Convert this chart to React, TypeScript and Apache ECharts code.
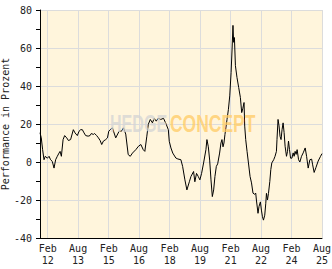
import React, { useEffect, useRef } from "react";
import * as echarts from "echarts";

const dates = [
  "2011-09-16","2011-10-09","2011-11-02","2011-11-27","2011-12-20","2012-01-26","2012-02-26","2012-03-24",
  "2012-04-24","2012-05-25","2012-06-23","2012-07-23","2012-08-23","2012-09-11","2012-10-04","2012-11-04",
  "2012-12-02","2013-01-08","2013-02-08","2013-03-19","2013-05-07","2013-06-07","2013-07-18","2013-08-18",
  "2013-09-16","2013-10-16","2013-11-16","2013-12-15","2014-01-28","2014-03-03","2014-03-26","2014-05-01",
  "2014-05-24","2014-06-30","2014-08-01","2014-09-01","2014-09-29","2014-10-29","2014-12-10","2015-01-10",
  "2015-02-03","2015-02-28","2015-04-09","2015-06-08","2015-08-08","2015-09-19","2015-10-25","2015-12-05",
  "2016-01-18","2016-02-24","2016-04-04","2016-06-03","2016-07-21","2016-09-02","2016-10-14","2016-11-12",
  "2016-12-18","2017-01-13","2017-02-18","2017-03-29","2017-04-29","2017-06-05","2017-07-10","2017-08-26",
  "2017-10-14","2017-12-02","2018-01-08","2018-01-25","2018-02-24","2018-03-29","2018-05-23","2018-06-28",
  "2018-08-22","2018-09-22","2018-11-02","2018-12-08","2019-01-21","2019-02-19","2019-04-07","2019-04-30",
  "2019-05-30","2019-06-30","2019-07-29","2019-08-29","2019-10-04","2019-11-15","2019-12-03","2019-12-28",
  "2020-01-21","2020-02-14","2020-03-09","2020-04-02","2020-04-25","2020-05-20","2020-06-13","2020-07-18",
  "2020-08-11","2020-08-29","2020-09-17","2020-10-04","2020-10-22","2020-11-28","2020-12-23","2021-01-16",
  "2021-02-09","2021-02-27","2021-03-15","2021-03-27","2021-04-10","2021-04-28","2021-05-26","2021-06-26",
  "2021-07-26","2021-08-19","2021-09-07","2021-09-30","2021-10-12","2021-10-30","2021-11-23","2021-12-18",
  "2022-01-16","2022-02-11","2022-03-10","2022-04-10","2022-04-28","2022-05-10","2022-06-08","2022-06-26",
  "2022-07-21","2022-08-08","2022-08-27","2022-09-14","2022-10-07","2022-10-25","2022-11-07","2022-11-25",
  "2022-12-13","2023-01-06","2023-01-24","2023-02-11","2023-03-17","2023-04-10","2023-05-05","2023-05-15",
  "2023-06-03","2023-06-21","2023-07-09","2023-07-27","2023-08-14","2023-09-02","2023-09-20","2023-10-08",
  "2023-11-02","2023-11-20","2023-12-08","2023-12-26","2024-01-14","2024-02-07","2024-03-01","2024-03-18",
  "2024-04-05","2024-04-23","2024-05-11","2024-06-06","2024-06-29","2024-07-29","2024-08-28","2024-10-03",
  "2024-10-28","2024-11-26","2024-12-26","2025-01-27","2025-02-14","2025-03-13","2025-04-13","2025-05-24",
  "2025-07-06","2025-08-01"
];

const performance = [
  15.4, 12.7, 6.5, 1.2, 3, 2, 3, 1.2,
  0.3, -3.2, 1.2, 3, 4.7, 5.6, 3, 11.8,
  13.9, 12.7, 11.3, 11.8, 17, 15.3, 13.9, 16.2,
  17, 17, 15.3, 13.9, 13.6, 13.9, 15, 14.5,
  15, 13.9, 12.7, 11.3, 9.2, 11, 11.8, 12.7,
  16.2, 17, 18, 12.7, 16.2, 16.2, 18, 14.7,
  3.9, 3, 4.7, 6.5, 8.3, 9.2, 6.5, 5.6,
  13.6, 19.8, 22.4, 20.6, 23, 21.5, 23, 22.4,
  23, 19.8, 17, 10.9, 7.4, 4.7, 2.1, 1.6,
  1.2, -2.3, -9.4, -14.7, -10.4, -7.6, -5, -10.4,
  -6, -7.6, -9.4, -6, -0.5, 6.5, 11.8, 8,
  1, -9.4, -18.2, -14.7, -7.6, -2.3, -1, 4.7,
  10, 11.8, 8, 10, 14.5, 22.4, 27.7, 34.8,
  47, 59.5, 71.9, 63, 65.5, 50.7, 44.5, 39.2,
  34, 26, 28, 31.3, 18.9, 11.8, 5.6, -0.5,
  -7.6, -11, -16.4, -17, -16.4, -20, -27, -23.4,
  -21, -25.3, -28.8, -30.6, -28, -22, -16.5, -20,
  -16.5, -10.3, -4, -0.5, 1.2, 3, 5.6, 11.8,
  22.4, 19, 13.5, 11.8, 17, 20.6, 15.5, 8.3,
  3, 5.6, 11, 6.5, 2, 2, 4.8, 3,
  5.6, 4, 6.5, 1.2, 0, 3, 4.8, 7.4,
  3, -3.2, 1.2, 1.5, -1.5, -5.5, -3, 0.5,
  3, 4.4
];

const tickDates = [
  "2012-02-01","2013-08-01","2015-02-01","2016-08-01","2018-02-01",
  "2019-08-01","2021-02-01","2022-08-01","2024-02-01","2025-08-01"
];
const monthNames = ["Jan","Feb","Mar","Apr","May","Jun","Jul","Aug","Sep","Oct","Nov","Dec"];

const xMin = "2011-09-16";
const xMax = "2025-08-01";
const yMin = -40;
const yMax = 80;
const yStep = 20;
const yAxisTitle = "Performance in Prozent";
const watermarkLeft = "HEDGE";
const watermarkRight = "CONCEPT";

function toTs(s: string) {
  const [y, m, d] = s.split("-").map(Number);
  return new Date(y, m - 1, d).getTime();
}

export default function App() {
  const ref = useRef<HTMLDivElement>(null);
  useEffect(() => {
    if (!ref.current) return;
    const chart = echarts.init(ref.current, null, { renderer: "svg" });
    const font = "'DejaVu Sans Mono', monospace";
    const wmFont = "bold 23px 'Liberation Sans', Arial, sans-serif";
    const tickTs = tickDates.map(toTs);
    chart.setOption({
      animation: false,
      backgroundColor: "#ffffff",
      grid: {
        left: 40,
        right: 10,
        top: 10,
        bottom: 31,
        containLabel: false,
        outerBoundsMode: "none",
        show: true,
        backgroundColor: "#fff5dc",
        borderWidth: 0,
      },
      xAxis: {
        type: "value",
        min: toTs(xMin),
        max: toTs(xMax),
        axisLine: { show: true, onZero: false, lineStyle: { color: "#000", width: 1 } },
        axisTick: { show: false, customValues: tickTs },
        splitLine: { show: true, lineStyle: { color: "#dcdcdc", width: 1 } },
        axisLabel: {
          customValues: tickTs,
          color: "#222",
          fontFamily: font,
          fontSize: 10,
          lineHeight: 12,
          margin: 4,
          hideOverlap: false,
          formatter: (v: number) => {
            const d = new Date(v);
            return monthNames[d.getMonth()] + "\n" + String(d.getFullYear() % 100).padStart(2, "0");
          },
        },
      },
      yAxis: {
        type: "value",
        min: yMin,
        max: yMax,
        interval: yStep,
        name: yAxisTitle,
        nameLocation: "middle",
        nameGap: 30,
        nameMoveOverlap: false,
        nameTextStyle: { color: "#222", fontFamily: font, fontSize: 10 },
        axisLine: { show: true, lineStyle: { color: "#000", width: 1 } },
        axisTick: { show: true, length: 4, inside: false, lineStyle: { color: "#000" } },
        minorTick: { show: true, splitNumber: 2, length: 4, lineStyle: { color: "#000" } },
        splitLine: { show: true, lineStyle: { color: "#dcdcdc", width: 1 } },
        axisLabel: { color: "#222", fontFamily: font, fontSize: 10, margin: 8 },
      },
      graphic: [
        {
          type: "text",
          x: 110,
          y: 124,
          scaleX: 0.7,
          z: 100,
          silent: true,
          style: {
            text: watermarkLeft,
            fill: "rgba(212,212,212,0.75)",
            font: wmFont,
            align: "left",
            verticalAlign: "middle",
          },
        },
        {
          type: "text",
          x: 170,
          y: 124,
          scaleX: 0.76,
          z: 100,
          silent: true,
          style: {
            text: watermarkRight,
            fill: "rgba(255,205,105,0.8)",
            font: wmFont,
            align: "left",
            verticalAlign: "middle",
          },
        },
      ],
      series: [
        {
          type: "line",
          data: dates.map((d, i) => [toTs(d), performance[i]]),
          showSymbol: false,
          symbol: "none",
          lineStyle: { color: "#000", width: 1 },
          z: 3,
        },
      ],
    });
    return () => chart.dispose();
  }, []);
  return (
    <div
      ref={ref}
      style={{ position: "absolute", left: 0, top: 0, width: 332, height: 269 }}
    />
  );
}
